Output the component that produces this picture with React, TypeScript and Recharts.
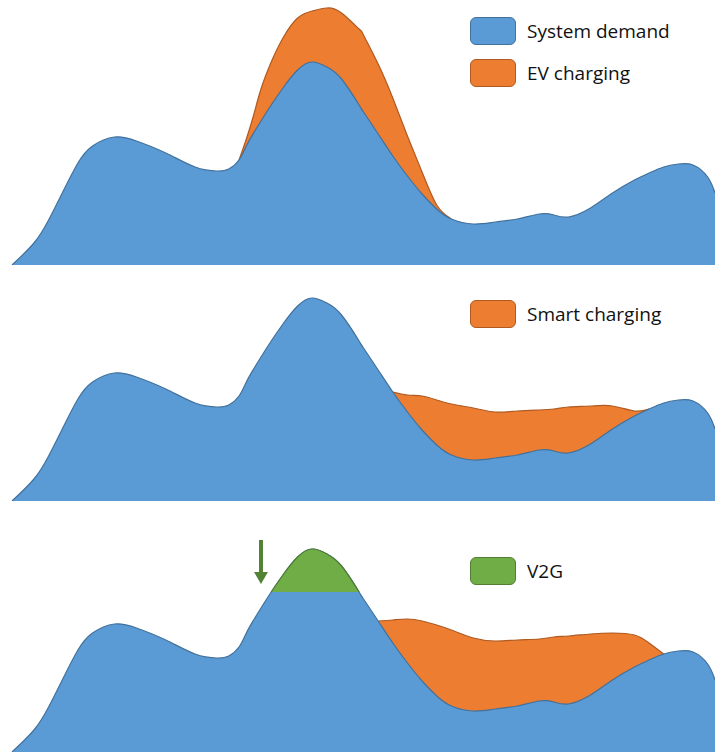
import { Area, ComposedChart, ReferenceLine, XAxis, YAxis } from 'recharts';

// hour of day, shared by all three panels (45 rows)
const HOURS = [
  0, 0.75, 1.25, 1.75, 2.25, 2.75, 3.5, 4.25, 5.25, 6.25, 7,
  7.4, 7.75, 8, 8.25, 8.5, 8.85, 9.25, 9.75, 10.25, 10.75, 11.25, 11.85,
  12, 12.5, 13, 13.5, 14, 14.5, 15, 15.75, 16.5, 17.25, 18,
  18.5, 19, 19.75, 20.5, 21.25, 21.75, 22.25, 22.75, 23.25, 23.75, 24,
];

// base system demand (arbitrary units)
const DEMAND = [
  0, 11, 22.5, 37, 51, 59.5, 64, 62, 56, 49, 47,
  48, 52.5, 59.5, 66, 72, 80, 88.5, 97.5, 101.5, 99, 93, 80,
  76.5, 65.5, 54.5, 44.5, 35.5, 28, 23, 20.5, 21.5, 23, 25.5,
  25, 24, 28.5, 36, 42.5, 46, 49, 50.5, 50, 44, 36,
];

// demand + uncontrolled EV charging
const EV_TOTAL = [
  null, null, null, null, null, null, null, null, null, null, null,
  null, 52.5, 63, 75, 88, 101.5, 113.5, 123.5, 127, 128.5, 126, 118,
  115, 100.5, 83.5, 64.5, 46.5, 30, 23, null, null, null, null,
  null, null, null, null, null, null, null, null, null, null, null,
];

// demand + smart charging
const SMART_TOTAL = [
  null, null, null, null, null, null, null, null, null, null, null,
  null, null, null, null, null, null, null, null, null, null, null, null,
  null, null, 54.5, 53, 52.5, 50.5, 48.5, 46.5, 44.5, 45, 45.5,
  46, 47, 47.5, 47.5, 45, 46, null, null, null, null, null,
];

// demand + charging, V2G case
const V2G_CHARGE_TOTAL = [
  null, null, null, null, null, null, null, null, null, null, null,
  null, null, null, null, null, null, null, null, null, null, null, null,
  null, 65.5, 66, 66.5, 65.5, 63.5, 61, 57, 55.5, 56, 56.5,
  57.5, 58, 59, 59.5, 58.5, 54.5, 49, null, null, null, null,
];

// peak shaved by V2G discharge (above V2G_CAP)
const V2G_SHAVED = [
  null, null, null, null, null, null, null, null, null, null, null,
  null, null, null, null, null, 80, 88.5, 97.5, 101.5, 99, 93, 80,
  null, null, null, null, null, null, null, null, null, null, null,
  null, null, null, null, null, null, null, null, null, null, null,
];
const V2G_CAP = 80;

const ARROW_HOUR = 8.5;
const ARROW_FROM = 106;
const ARROW_TO = 84;

const rows = HOURS.map((hour, i) => ({
  hour,
  demand: DEMAND[i],
  ev: EV_TOTAL[i],
  smart: SMART_TOTAL[i],
  v2gCharge: V2G_CHARGE_TOTAL[i],
  shaved: V2G_SHAVED[i],
}));

const BLUE = '#5B9BD5';
const BLUE_LINE = '#41719C';
const ORANGE = '#ED7D31';
const ORANGE_LINE = '#AE5A21';
const GREEN = '#70AD47';
const GREEN_LINE = '#507E32';
const ARROW = '#548235';

const W = 715;
const FONT = '"Open Sans", "Noto Sans", sans-serif';

function ArrowShape(p: any) {
  const { x1, y1, x2, y2 } = p;
  const head = 12;
  return (
    <g>
      <line x1={x1} y1={y1} x2={x2} y2={y2 - head} stroke={ARROW} strokeWidth={4} />
      <polygon points={`${x2 - 7},${y2 - head} ${x2 + 7},${y2 - head} ${x2},${y2}`} fill={ARROW} />
    </g>
  );
}

function LegendItem(props: { top: number; fill: string; stroke: string; label: string }) {
  const { top, fill, stroke, label } = props;
  return (
    <>
      <div
        style={{
          position: 'absolute',
          left: 470,
          top,
          width: 44,
          height: 26,
          background: fill,
          border: `1.5px solid ${stroke}`,
          borderRadius: 6,
        }}
      />
      <div
        style={{
          position: 'absolute',
          left: 527,
          top: top - 0.5,
          lineHeight: '28px',
          fontSize: 19,
          fontFamily: FONT,
          color: '#111',
          whiteSpace: 'nowrap',
        }}
      >
        {label}
      </div>
    </>
  );
}

function panelChart(h: number, children: React.ReactNode) {
  return (
    <ComposedChart width={W} height={h} data={rows} margin={{ top: 0, right: 0, bottom: 0, left: 12 }}>
      <XAxis dataKey="hour" type="number" domain={[0, 24]} hide />
      <YAxis type="number" domain={[0, h / 2]} hide allowDataOverflow />
      {children}
    </ComposedChart>
  );
}

const areaProps = {
  type: 'natural' as const,
  fillOpacity: 1,
  strokeWidth: 1.2,
  dot: false,
  activeDot: false,
  isAnimationActive: false,
};

export default function App() {
  const h1 = 265;
  const h2 = 236;
  const h3 = 251;
  return (
    <div style={{ position: 'absolute', left: 0, top: 0, width: W, height: 756, background: '#fff' }}>
      <div style={{ position: 'absolute', left: 0, top: 0 }}>
        {panelChart(
          h1,
          <>
            <Area {...areaProps} dataKey="ev" fill={ORANGE} stroke={ORANGE_LINE} />
            <Area {...areaProps} dataKey="demand" fill={BLUE} stroke={BLUE_LINE} />
          </>,
        )}
      </div>
      <div style={{ position: 'absolute', left: 0, top: h1 }}>
        {panelChart(
          h2,
          <>
            <Area {...areaProps} dataKey="smart" fill={ORANGE} stroke={ORANGE_LINE} />
            <Area {...areaProps} dataKey="demand" fill={BLUE} stroke={BLUE_LINE} />
          </>,
        )}
      </div>
      <div style={{ position: 'absolute', left: 0, top: h1 + h2 }}>
        {panelChart(
          h3,
          <>
            <Area {...areaProps} dataKey="v2gCharge" fill={ORANGE} stroke={ORANGE_LINE} />
            <Area {...areaProps} dataKey="demand" fill={BLUE} stroke={BLUE_LINE} />
            <Area {...areaProps} dataKey="shaved" baseValue={V2G_CAP} fill={GREEN} stroke={GREEN_LINE} />
            <ReferenceLine
              segment={[
                { x: ARROW_HOUR, y: ARROW_FROM },
                { x: ARROW_HOUR, y: ARROW_TO },
              ]}
              shape={ArrowShape}
              ifOverflow="visible"
            />
          </>,
        )}
      </div>
      <LegendItem top={17} fill={BLUE} stroke={BLUE_LINE} label="System demand" />
      <LegendItem top={59} fill={ORANGE} stroke={ORANGE_LINE} label="EV charging" />
      <LegendItem top={300} fill={ORANGE} stroke={ORANGE_LINE} label="Smart charging" />
      <LegendItem top={557} fill={GREEN} stroke={GREEN_LINE} label="V2G" />
    </div>
  );
}
